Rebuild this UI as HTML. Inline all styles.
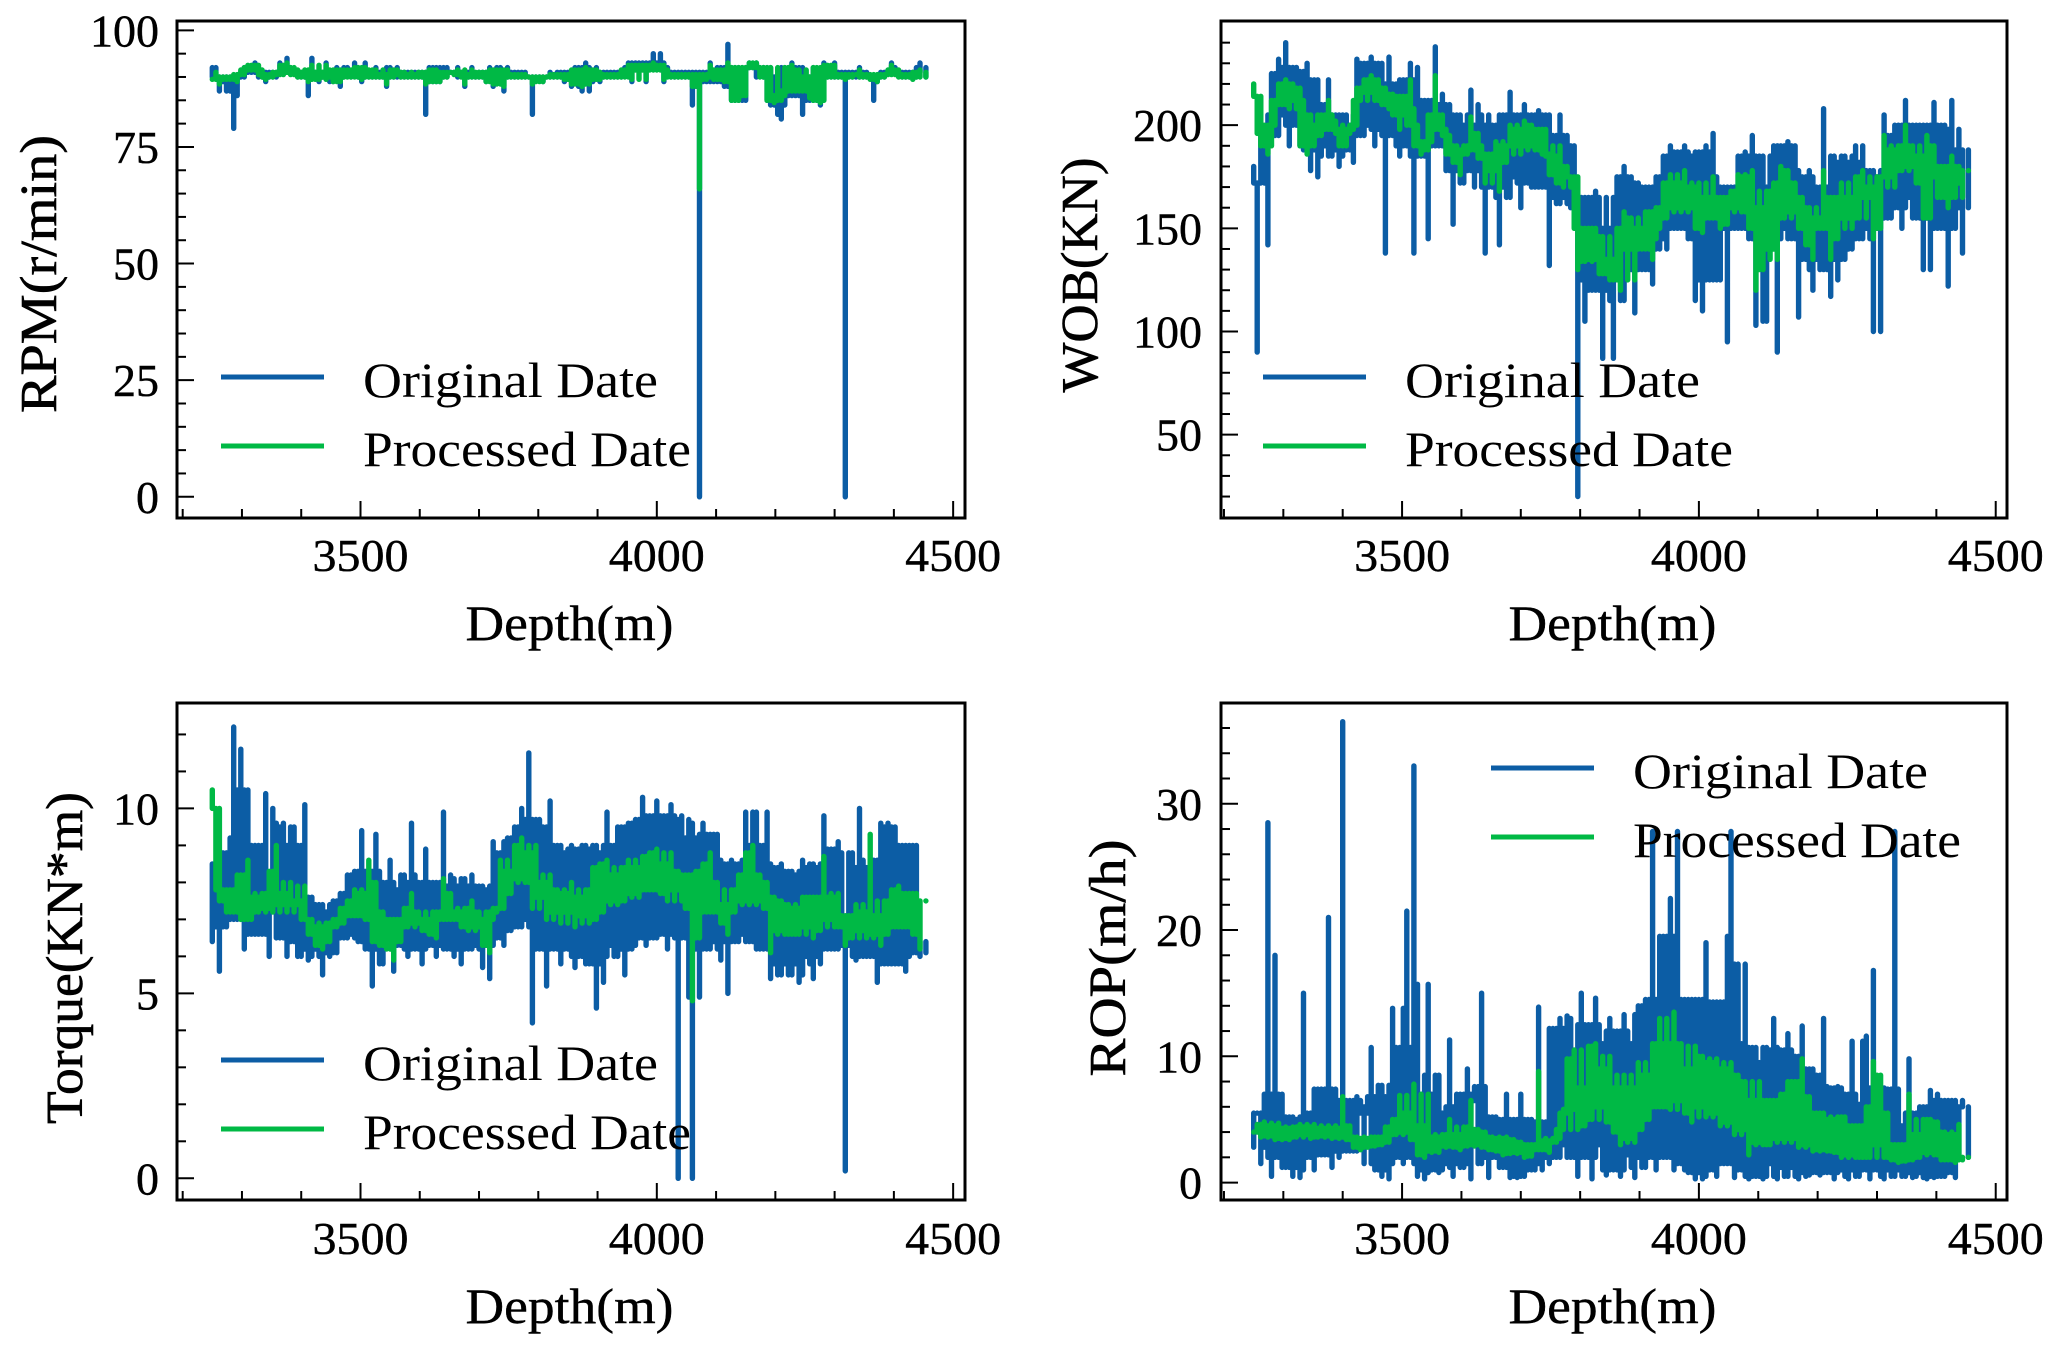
<!DOCTYPE html>
<html lang="en">
<head>
<meta charset="utf-8">
<title>Drilling parameters versus depth</title>
<style>
html,body{margin:0;padding:0;background:#fff;}
svg{display:block;font-family:"Liberation Serif",serif;}
</style>
</head>
<body>
<svg id="figure" xmlns="http://www.w3.org/2000/svg" width="2056" height="1348" viewBox="0 0 2056 1348"></svg>
<script>
const depths = [
3250,3256,3262,3268,3274,3280,3286,3292,3298,3304,3310,3316,3322,3328,3334,3340,3346,3352,3358,3364,
3370,3376,3382,3388,3394,3400,3406,3412,3418,3424,3430,3436,3442,3448,3454,3460,3466,3472,3478,3484,
3490,3496,3502,3508,3514,3520,3526,3532,3538,3544,3550,3556,3562,3568,3574,3580,3586,3592,3598,3604,
3610,3616,3622,3628,3634,3640,3646,3652,3658,3664,3670,3676,3682,3688,3694,3700,3706,3712,3718,3724,
3730,3736,3742,3748,3754,3760,3766,3772,3778,3784,3790,3796,3802,3808,3814,3820,3826,3832,3838,3844,
3850,3856,3862,3868,3874,3880,3886,3892,3898,3904,3910,3916,3922,3928,3934,3940,3946,3952,3958,3964,
3970,3976,3982,3988,3994,4000,4006,4012,4018,4024,4030,4036,4042,4048,4054,4060,4066,4072,4078,4084,
4090,4096,4102,4108,4114,4120,4126,4132,4138,4144,4150,4156,4162,4168,4174,4180,4186,4192,4198,4204,
4210,4216,4222,4228,4234,4240,4246,4252,4258,4264,4270,4276,4282,4288,4294,4300,4306,4312,4318,4324,
4330,4336,4342,4348,4354,4360,4366,4372,4378,4384,4390,4396,4402,4408,4414,4420,4426,4432,4438,4444,
4454];

const rpmOriginal = [
92,92,87,90,89, 90,79,86,90,91, 92,92,93,91,90, 89,90,90,91,93,
91,94,92,91,90, 90,91,86,94,90, 89,91,93,90,89, 92,88,91,92,90,
93,91,89,93,90, 90,92,91,90,88, 92,91,92,90,91, 90,91,90,91,90,
82,92,89,92,89, 92,90,91,91,92, 91,88,90,92,90, 90,91,89,92,88,
92,90,87,92,91, 91,90,90,91,90, 82,90,90,89,90, 91,90,90,91,89,
91,88,92,92,87, 93,87,91,92,89, 91,90,90,91,91, 90,92,93,89,92,
93,93,89,92,95, 93,95,89,92,91, 90,91,90,91,90, 84,91,0,91,89,
93,90,92,89,88, 97,85,92,85,92, 85,93,92,93,92, 90,85,92,84,82,
81,92,87,93,86, 92,82,90,85,92, 85,84,93,90,91, 93,90,91,0,91,
90,91,92,91,90, 90,85,89,90,91, 91,93,92,91,90, 90,91,90,92,93,
90];
const rpmProcessed = [
89.5,91,88.5,90,89.5, 90,90.5,89,90.5,91.5, 92,92.5,92.5,91.5,90.5, 89.5,90,90.5,91,92.5,
90.5,93,92,91,90, 90.5,91.5,89,92.5,90, 89.5,91,92.5,90,89, 91.5,89,90.5,91.5,90,
92,91,89.5,92,90, 90,91.5,90.5,90,88.5, 91.5,90.5,91.5,90,91, 90,90.5,90,91,90,
88.5,91.5,89,91.5,89, 91,90,91,91,91.5, 90.5,88.5,90,91.5,90, 90,91,89,91.5,88.5,
91.5,90,88,91.5,90.5, 90.5,90,90,90.5,90, 88.5,90,90,89,90, 90.5,90,90,90.5,89.5,
90.5,88.5,91.5,91.5,88, 92,88.5,91,91.5,89.5, 90.5,90,90,90.5,90.5, 90,91.5,92.5,89.5,91.5,
92.5,92.5,89.5,91.5,93, 92.5,92.5,89.5,91.5,90.5, 90,90.5,90,90.5,90, 88,90.5,66,90.5,89.5,
92.5,90,91.5,89.5,89, 93,85,92,85,92, 86,93,92,93,92, 90,85,92,84.5,86,
85,92,87,92.5,87, 91.5,87,90,85.5,92, 85,84.5,92.5,90,90.5, 92.5,90,90.5,89.5,90.5,
90,90.5,91.5,90.5,90, 89.5,90.5,89,90,90.5, 90.5,92.5,91.5,90.5,90, 90,90.5,89.5,91,91.5,
90];

const wobOriginal = [
172,90,205,180,142, 225,195,232,205,240, 190,228,200,226,188, 230,178,222,175,210,
190,222,185,205,180, 205,188,200,182,232, 195,230,200,233,190, 230,198,138,233,195,
220,185,222,190,230, 138,228,185,212,145, 205,238,190,215,178, 210,152,205,172,200,
178,217,170,210,180, 138,205,170,200,142, 205,165,216,175,205, 160,210,172,205,170,
207,170,205,132,195, 162,205,165,195,160, 190,20,165,105,165, 125,168,120,87,165,
150,87,175,115,180, 130,175,109,172,135, 170,130,123,175,145, 185,140,190,150,187,
150,190,145,185,115, 187,110,190,125,196, 175,125,170,95,170, 150,185,150,187,145,
195,103,185,105,170, 145,190,90,190,150, 192,145,190,107,175, 135,178,120,170,130,
208,135,117,185,125, 185,135,182,140,190, 145,190,150,178,100, 175,100,205,155,195,
160,200,150,212,165, 200,155,200,130,200, 130,211,160,200,150, 122,212,160,198,138,
188];
const wobProcessed = [
220,214,196,190,186, 200,212,220,210,222, 208,220,212,218,190, 186,205,190,200,195,
205,212,198,202,190, 196,190,200,198,218, 212,222,216,224,212, 222,210,218,208,215,
205,198,214,208,222, 200,190,186,192,188, 205,224,205,198,186, 195,182,190,176,186,
188,204,190,196,184, 172,186,178,192,168, 190,182,200,190,198, 186,202,190,200,188,
198,186,198,176,185, 172,190,170,180,175, 175,130,150,134,150, 135,150,128,146,128,
125,135,150,120,158, 140,155,125,150,140, 158,145,135,160,150, 172,155,176,160,172,
158,178,160,170,150, 172,148,165,155,175, 158,150,165,152,168, 160,176,158,175,150,
178,120,160,130,168, 140,172,135,180,155, 178,158,172,150,165, 142,160,135,155,150,
178,150,135,165,145, 172,155,165,150,175, 155,178,165,170,145, 175,150,195,175,188,
170,190,178,200,180, 190,172,185,155,195, 155,190,175,180,165, 160,185,172,180,165,
178];

const torqueOriginal = [
6.4,8.5,5.6,8.8,6.8, 9.2,12.2,7,11.6,6.2, 10.5,6.6,9,6.6,7.9, 10.4,6,10,6.5,8.2,
9.6,6,9.5,6.4,9, 6,10.1,5.9,7.6,6.2, 7.4,5.5,7.2,6,7.5, 6.1,7.7,6.5,8.2,6.6,
8.3,6.4,9.4,6.2,8.3, 5.2,9.3,5.8,8,6.3, 8.6,5.6,7.8,6.3,8.2, 6,9.6,6.2,8,5.8,
8.9,6.3,8,6,7.9, 9.9,6.2,8.2,6,7.9, 5.8,8.1,6.2,8.2,6.3, 7.9,5.7,7.8,5.4,9.1,
6.5,8.8,6.3,9.2,6.7, 9.5,6.8,10,7,11.5, 4.2,9.7,6.2,9.5,5.2, 10.2,6.2,9,5.8,8.8,
6.2,9,5.7,8.9,6, 9,5.8,9,4.6,8.8, 5.3,9.9,6.3,9,6, 9.5,5.5,9.6,6.2,9.7,
6.5,10.3,6.3,9.8,6.5, 10.2,6.6,9.8,6.2,10.1, 6.7,0,9.8,6.5,9.7, 0,9.2,4.9,9.6,6.2,
9.3,6.4,9.3,5.9,8.5, 5,8.6,6.4,8.5,6.6, 9.9,6.4,9.9,6.2,9, 6.2,9.9,5.4,8.4,5.5,
8.5,5.8,8.3,5.5,8.2, 5.3,8.6,6,8.5,5.4, 8.4,5.8,9.8,6.2,8.9, 6.2,9.1,6.4,0.2,6.3,
8.8,5.9,10,6,8.4, 6,8.6,5.3,9.6,5.8, 9.6,5.8,9.5,5.8,9, 5.6,9,6.1,9,6,
6.4];
const torqueProcessed = [
10.5,10,7.8,7.5,7.2, 7.8,7.2,8.2,7,7.5, 8.6,7,7.6,7.2,7.7, 7.3,8.3,7.2,9,7.4,
7.7,7.2,8,7.4,7.5, 7,7.9,6.6,7,6.3, 6.8,6.2,6.9,6.4,7, 6.8,7.3,6.9,7.5,7.1,
7.8,7.1,7.7,7,8.6, 6.4,8,6.3,7.2,6.2, 7,5.9,7,6.4,7.3, 6.8,7.7,6.9,7.2,6.7,
7,6.6,7.2,6.5,7, 8.1,7,7.7,7,7.2, 6.8,7.3,6.7,7.5,6.8, 7.2,6.3,7,6.1,7.3,
7.2,8.6,7.3,8.3,7.7, 9,8.1,9.2,8,8.8, 7.3,9,7.6,8,7, 8.2,7.2,7.8,6.9,7.7,
7.2,8,6.8,7.6,7.1, 7.8,6.9,8.4,7,8.5, 7.2,8.6,7.5,8.2,7.4, 8.4,7.5,8.6,7.7,8.4,
7.6,8.7,7.8,8.8,7.8, 8.9,7.7,8.5,7.5,8.8, 7.8,8.3,7.5,8.2,7.3, 4.8,8.3,6.5,8.5,7.2,
8.8,7.2,8,6.9,7.4, 6.6,7.8,7.2,8.2,7.5, 8.8,7.4,9,7.5,8.2, 7.3,8,6.1,7.6,6.7,
7.5,6.6,7.4,6.6,7.3, 6.6,7.6,6.8,7.6,6.5, 7.6,6.7,8.7,7,7.6, 6.8,7.7,6.9,6.3,7.1,
6.5,7.4,6.7,7.2,6.5, 9.3,6.6,7.1,6.3,7.5, 6.6,7.8,6.8,7.9,7, 6.8,7.7,6.6,7.7,6.2,
7.5];

const ropOriginal = [
2.8,5.5,1.5,7,28.5, 0.5,18,2,7,1.2, 5.2,0.5,5,0.4,15, 2,5.5,1,7.4,2.2,
7.4,21,1.2,6,2, 36.5,2.5,6.5,2.5,6.8, 5.5,1.5,6,10.7,1, 7.7,0.5,6.8,0.3,13.8,
2,10.7,1.5,21.5,2, 33,0.5,7,0.3,15.7, 1,8.5,0.8,5.5,1.5, 11.3,0.5,6,1.2,7,
9,0.3,6.5,1.5,15, 7.6,0.4,5.2,2,5, 1.2,7,0.4,5,0.4, 7,0.5,5,1,4.8,
13.9,1,4.5,1.5,12.2, 2,13,3,13.2,2, 9,0.5,15,2,12.5, 0.3,14.6,3,11,0.6,
13,1,12,0.5,13.3, 2.2,11,0.4,14,1.2, 14.5,2,27.8,1,14.5, 19.5,2,22.5,1,27.8,
1.5,14.5,0.8,14.5,0.3, 14.5,0.3,19,1,14.3, 0.5,13,1.5,19.5,27.8, 0.4,11,1,17.3,0.3,
10.7,0.5,9.5,0.3,10.7, 1.5,13,0.3,10.5,0.5, 11.8,1.2,10,0.3,12.4, 0.5,9,0.8,8.5,0.6,
13,0.8,7.5,0.3,7.6, 1,7,0.3,11.2,0.5, 6.2,1,11.6,0.3,16.8, 1,7.5,0.3,7.4,0.5,
27.8,1,4.5,0.5,9.8, 0.4,5.5,0.8,6,0.3, 7.3,0.4,7,0.5,6.5, 0.8,6.5,0.4,6,6.5,
2];
const ropProcessed = [
4,4.6,3.6,4.8,3.7, 4.5,3.4,4.7,3.5,4.3, 3.4,4.4,3.6,4.6,3.8, 4.4,3.5,4.6,3.6,4.3,
3.7,4.5,3.5,4.3,3.6, 6.8,3.4,4.5,2.8,3.6, 2.6,3.5,2.8,3.6,2.9, 3.6,3,4.4,3.2,5,
3.8,6.9,4,5.5,3.4, 7.8,2.2,4.5,2,7, 2.5,3.6,2.4,3.8,2.9, 5,2.8,3.8,2.6,4.4,
2.9,6.5,3,4.2,2.8, 4,2.6,3.6,2.5,3.5, 2.2,3.6,2.3,3.4,2.4, 3.2,2,3,2.1,3,
8.8,2.6,3.3,2.4,3.5, 3.2,5.5,4.2,9.8,5.8, 10.5,4.2,7.5,4.5,10.8, 5,11,6,9,4.8,
10,4,7.5,3,8.5, 3.5,7.5,3.2,9.5,4.2, 8.5,5,11,6,13, 6,11,5.8,13.5,6.5,
11,5.5,9,4.8,10.8, 6,10,5.2,9.5,5.5, 9.8,4.5,9,4.8,9.5, 3.8,8.5,4.2,8,2.2,
6.5,3.2,8,3,6.5, 3,6.5,3.5,7,3.2, 8,3.5,8,2.8,9.8, 3,6.8,2.5,5.5,2.6,
5.5,2.5,5,2.4,5.2, 2,5.2,2.2,4.5,2, 4.5,2,6,2,9.6, 3,8.5,2,5.5,1.8,
3,1.6,3,1.7,7, 1.8,3.8,2,5,2.4, 5,2.2,4.8,1.8,4, 1.8,3.8,1.6,4.6,1.8,
2];

const xTickLabels = [3500, 4000, 4500];
const rpmTickLabels = [0, 25, 50, 75, 100];
const wobTickLabels = [50, 100, 150, 200];
const torqueTickLabels = [0, 5, 10];
const ropTickLabels = [0, 10, 20, 30];
const legendLabels = ["Original Date", "Processed Date"];

const BLUE = "#0C5DA5";
const GREEN = "#00B945";
const NS = "http://www.w3.org/2000/svg";
const svg = document.getElementById("figure");

const panels = [
  {key:"rpm", title:"RPM(r/min)", original:rpmOriginal, processed:rpmProcessed, yTicks:rpmTickLabels,
   left:177, right:965, top:21, bottom:518, xDom:[3190.4,4520], yDom:[-4.55,102], yMinor:[0,100,5],
   yLabelX:56, yLabelY:274, yLabelLen:278, yTickEnd:159, xTickBase:571, xLabelBase:640, xLabelX:569.5,
   legendX:221, legendY:377},
  {key:"wob", title:"WOB(KN)", original:wobOriginal, processed:wobProcessed, yTicks:wobTickLabels,
   left:1221, right:2007, top:21, bottom:518, xDom:[3195,4519], yDom:[9.6,250.5], yMinor:[20,240,10],
   yLabelX:1097, yLabelY:275, yLabelLen:235, yTickEnd:1202, xTickBase:571, xLabelBase:640, xLabelX:1612.5,
   legendX:1263, legendY:377},
  {key:"torque", title:"Torque(KN*m)", original:torqueOriginal, processed:torqueProcessed, yTicks:torqueTickLabels,
   left:177, right:965, top:703, bottom:1200, xDom:[3190.4,4520], yDom:[-0.587,12.85], yMinor:[0,12,1],
   yLabelX:82, yLabelY:958, yLabelLen:332, yTickEnd:159, xTickBase:1254, xLabelBase:1323, xLabelX:569.5,
   legendX:221, legendY:1060},
  {key:"rop", title:"ROP(m/h)", original:ropOriginal, processed:ropProcessed, yTicks:ropTickLabels,
   left:1221, right:2007, top:703, bottom:1200, xDom:[3195,4519], yDom:[-1.38,37.98], yMinor:[0,36,2],
   yLabelX:1125, yLabelY:958, yLabelLen:237, yTickEnd:1202, xTickBase:1254, xLabelBase:1323, xLabelX:1612.5,
   legendX:1491, legendY:768}
];

function make(tag, attrs, parent) {
  const el = document.createElementNS(NS, tag);
  for (const k in attrs) el.setAttribute(k, attrs[k]);
  parent.appendChild(el);
  return el;
}

function localRange(values, i, reach, drop) {
  const win = values.slice(Math.max(0, i - reach), i + reach + 1).sort((a, b) => a - b);
  const trim = Math.min(drop, Math.floor((win.length - 1) / 2));
  const low = Math.min(win[trim], values[i]);
  const high = Math.max(win[win.length - 1 - trim], values[i]);
  return [low, high];
}

function drawPanel(p) {
  const xScale = v => p.left + (v - p.xDom[0]) * (p.right - p.left) / (p.xDom[1] - p.xDom[0]);
  const yScale = v => p.bottom - (v - p.yDom[0]) * (p.bottom - p.top) / (p.yDom[1] - p.yDom[0]);

  const g = make("g", {}, svg);
  
  

  [[p.original, BLUE, "original", 3, 2], [p.processed, GREEN, "processed", 2, 1]].forEach(s => {
    const d = s[0].map((v, i) => {
      const range = localRange(s[0], i, s[3], s[4]);
      return "M" + xScale(depths[i]).toFixed(1) + " " + yScale(range[0]).toFixed(1) + "V" + yScale(range[1]).toFixed(1);
    }).join("");
    const line = make("path", {d: d, fill: "none", stroke: s[1], "stroke-width": 5.4, "stroke-linecap": "round"}, g);
    
    
  });

  for (let d = 3200; d <= 4500; d += 100) {
    const major = xTickLabels.indexOf(d) >= 0;
    const x = xScale(d);
    const tick = make("line", {x1: x, x2: x, y1: p.bottom, y2: p.bottom - (major ? 17 : 9), stroke: "#000", "stroke-width": 2}, g);
    
    
  }
  for (let v = p.yMinor[0]; v <= p.yMinor[1]; v += p.yMinor[2]) {
    const major = p.yTicks.indexOf(v) >= 0;
    const y = yScale(v);
    const tick = make("line", {x1: p.left, x2: p.left + (major ? 17 : 9), y1: y, y2: y, stroke: "#000", "stroke-width": 2}, g);
    
    
  }

  const frame = make("rect", {x: p.left, y: p.top, width: p.right - p.left, height: p.bottom - p.top, fill: "none", stroke: "#000", "stroke-width": 3}, g);
  
  

  xTickLabels.forEach(v => {
    const t = make("text", {x: xScale(v), y: p.xTickBase, "text-anchor": "middle", "font-size": 46, textLength: 96, lengthAdjust: "spacingAndGlyphs", fill: "#000", stroke: "#000", "stroke-width": 0.4}, g);
    t.textContent = v;
    
    
  });
  p.yTicks.forEach(v => {
    const t = make("text", {x: p.yTickEnd, y: yScale(v) + 16, "text-anchor": "end", "font-size": 46, fill: "#000", stroke: "#000", "stroke-width": 0.4}, g);
    t.textContent = v;
    
    
  });

  const xl = make("text", {x: p.xLabelX, y: p.xLabelBase, "text-anchor": "middle", "font-size": 50, textLength: 208, lengthAdjust: "spacingAndGlyphs", fill: "#000", stroke: "#000", "stroke-width": 0.4}, g);
  xl.textContent = "Depth(m)";
  
  

  const yl = make("text", {x: 0, y: 0, transform: "translate(" + p.yLabelX + "," + p.yLabelY + ") rotate(-90)", "text-anchor": "middle", "font-size": 52, textLength: p.yLabelLen, lengthAdjust: "spacingAndGlyphs", fill: "#000", stroke: "#000", "stroke-width": 0.6}, g);
  yl.textContent = p.title;
  
  

  legendLabels.forEach((label, i) => {
    const ly = p.legendY + i * 69;
    const sw = make("line", {x1: p.legendX, x2: p.legendX + 103, y1: ly, y2: ly, stroke: i ? GREEN : BLUE, "stroke-width": 5}, g);
    
    
    const t = make("text", {x: p.legendX + 142, y: ly + 20, "font-size": 50, textLength: i ? 328 : 295, lengthAdjust: "spacingAndGlyphs", fill: "#000"}, g);
    t.textContent = label;
    
    
  });
}

panels.forEach(drawPanel);
</script>
</body>
</html>
